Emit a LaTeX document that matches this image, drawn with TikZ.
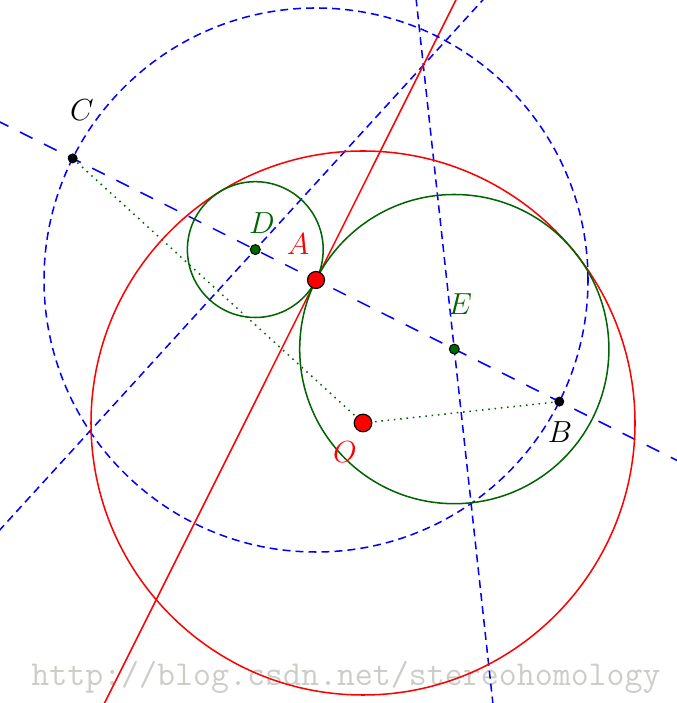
\RequirePackage{fix-cm}
\documentclass[tikz,border=0pt]{standalone}
\usepackage{amsmath}
\usepackage{fontspec}
\usetikzlibrary{calc}
\definecolor{darkgreen}{RGB}{0,100,0}
\definecolor{wmgray}{RGB}{205,205,200}

\begin{document}
\begin{tikzpicture}[x=0.03cm,y=0.03cm]
\tikzstyle{every node} = [font=\fontsize{26}{30}\selectfont]
\tikzstyle{thinline} = [line width=1.3pt]
\tikzstyle{shortdash} = [thinline, blue, dash pattern=on 6.8pt off 4.3pt]
\tikzstyle{longdash} = [thinline, blue, dash pattern=on 12pt off 11pt]
\tikzstyle{dotline} = [darkgreen, line width=1.3pt, dash pattern=on 1.3pt off 4.1pt]
\tikzstyle{greendot} = [fill=darkgreen, draw=black, line width=0.8pt]
\tikzstyle{reddot} = [fill=red, draw=black, line width=1pt]

\useasboundingbox (0,0) rectangle (677,703);
\clip (0,0) rectangle (677,703);

\coordinate (O) at (363,280);
\coordinate (A) at (316,423);
\coordinate (C) at (72.7,544.6);
\coordinate (B) at (559.3,301.4);
\coordinate (D) at (255.3,453.4);
\coordinate (E) at (454.3,353.9);
\coordinate (mOC) at ($(O)!0.5!(C)$);
\coordinate (mOB) at ($(O)!0.5!(B)$);

\node[wmgray, font=\fontsize{29.8}{33}\selectfont\ttfamily] (wm) at (346,26) {http://blog.csdn.net/stereohomology};

% lines
\draw[longdash] ($(C)!-1!(B)$) -- ($(B)!-1!(C)$);
\draw[shortdash] ($(mOC)!16cm!90:(C)$) -- ($(mOC)!16cm!-90:(C)$);
\draw[shortdash] ($(mOB)!16cm!90:(B)$) -- ($(mOB)!16cm!-90:(B)$);
\draw[red, thinline] ($(A)!16cm!90:(B)$) -- ($(A)!16cm!-90:(B)$);
\draw[dotline] (C) -- (O) -- (B);

% circles
\draw[shortdash] (A) circle (272);
\draw[red, thinline] (O) circle (272);
\draw[darkgreen, thinline] (D) circle (67.9);
\draw[darkgreen, thinline] (E) circle (154.6);

% points
\fill (C) circle (5);
\fill (B) circle (5);
\filldraw[greendot] (D) circle (5);
\filldraw[greendot] (E) circle (5);
\filldraw[reddot] (A) circle (8.5);
\filldraw[reddot] (O) circle (8.8);

\node (labC) at (82,593) {$C$};
\node[darkgreen] (labD) at (262,480) {$D$};
\node[red] (labA) at (298,459) {$A$};
\node[darkgreen] (labE) at (460,398.5) {$E$};
\node (labB) at (560,270.5) {$B$};
\node[red] (labO) at (345,251) {$O$};

\end{tikzpicture}
\end{document}
